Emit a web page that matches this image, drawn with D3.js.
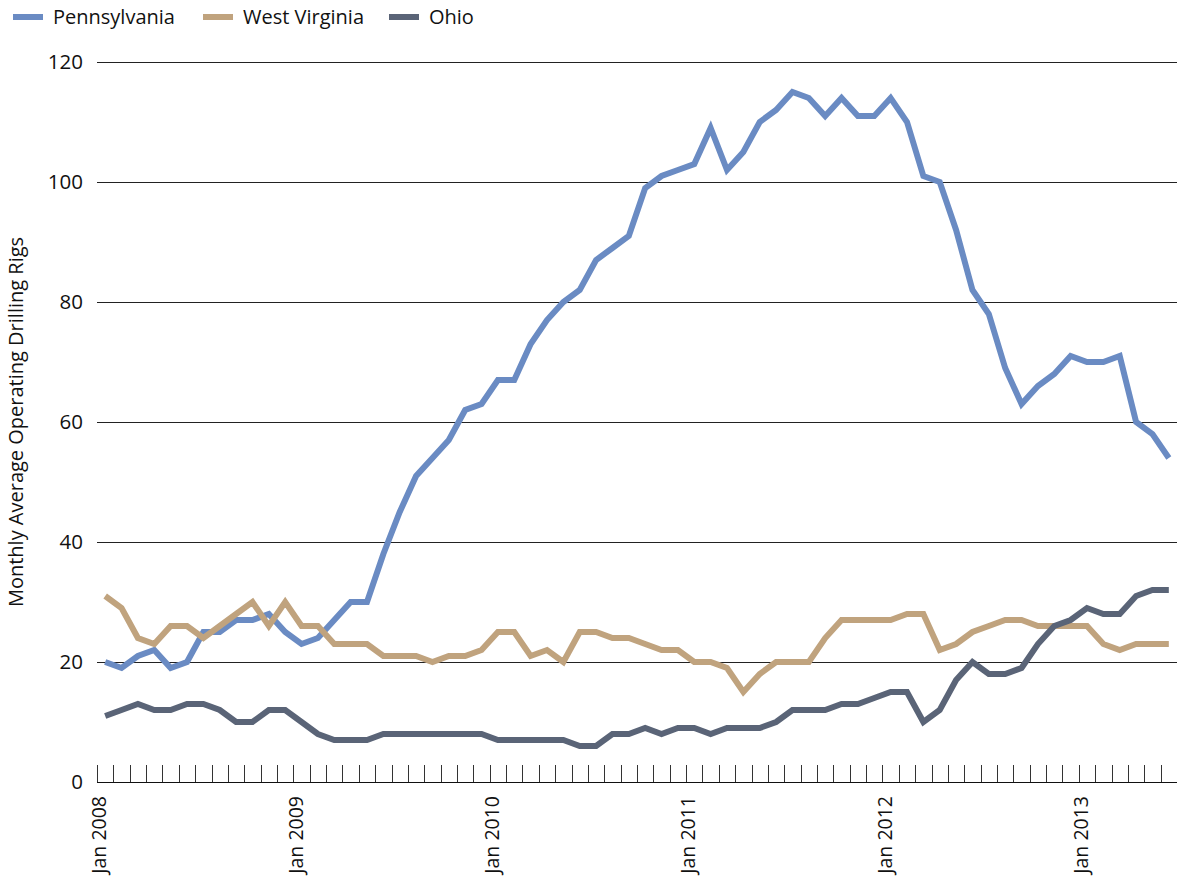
<!DOCTYPE html>
<html>
<head>
<meta charset="utf-8">
<script src="https://cdn.jsdelivr.net/npm/d3@7"></script>
<style>
  html, body { margin: 0; padding: 0; background: #fff; }
  svg text { font-family: "Open Sans", "Noto Sans", sans-serif; fill: #111; }
</style>
</head>
<body>
<svg id="chart" width="1177" height="880"></svg>
<script>
// ---- Data ----
const months = d3.range(66).map(i => new Date(2008, i, 1)); // Jan 2008 .. Jun 2013
const seriesNames = ["Pennsylvania", "West Virginia", "Ohio"];
const pennsylvania = [20,19,21,22,19,20,25,25,27,27,28,25,23,24,27,30,30,38,45,51,54,57,62,63,67,67,73,77,80,82,87,89,91,99,101,102,103,109,102,105,110,112,115,114,111,114,111,111,114,110,101,100,92,82,78,69,63,66,68,71,70,70,71,60,58,54];
const westVirginia = [31,29,24,23,26,26,24,26,28,30,26,30,26,26,23,23,23,21,21,21,20,21,21,22,25,25,21,22,20,25,25,24,24,23,22,22,20,20,19,15,18,20,20,20,24,27,27,27,27,28,28,22,23,25,26,27,27,26,26,26,26,23,22,23,23,23];
const ohio = [11,12,13,12,12,13,13,12,10,10,12,12,10,8,7,7,7,8,8,8,8,8,8,8,7,7,7,7,7,6,6,8,8,9,8,9,9,8,9,9,9,10,12,12,12,13,13,14,15,15,10,12,17,20,18,18,19,23,26,27,29,28,28,31,32,32];
const yTicks = [0, 20, 40, 60, 80, 100, 120];
const xLabelMonths = [0, 12, 24, 36, 48, 60];
const colors = ["#6a8bc3", "#c0a37e", "#5a6477"];
const yTitle = "Monthly Average Operating Drilling Rigs";

const fmt = d3.timeFormat("%b %Y");
const svg = d3.select("#chart");
const plotLeft = 97, plotRight = 1177, plotTop = 62, plotBottom = 782;

const x = d3.scaleBand().domain(d3.range(months.length)).range([plotLeft, plotRight]).paddingInner(0).paddingOuter(0);
const y = d3.scaleLinear().domain([0, 120]).range([plotBottom, plotTop]);
const cx = i => x(i) + x.bandwidth() / 2;

// Gridlines
svg.append("g").selectAll("line").data(yTicks.filter(d => d > 0)).join("line")
  .attr("x1", plotLeft).attr("x2", plotRight)
  .attr("y1", d => y(d) + 0.5).attr("y2", d => y(d) + 0.5)
  .attr("stroke", "#222").attr("stroke-width", 1);

// Y tick labels
svg.append("g").selectAll("text").data(yTicks).join("text")
  .attr("x", 83).attr("y", d => y(d))
  .attr("dy", "0.36em")
  .attr("text-anchor", "end")
  .attr("font-size", 20.5)
  .text(d => d);

// Y title
svg.append("text")
  .attr("transform", `translate(23,${(plotTop + plotBottom) / 2}) rotate(-90)`)
  .attr("text-anchor", "middle")
  .attr("font-size", 20)
  .text(yTitle);

// X axis line and ticks
svg.append("line").attr("x1", plotLeft).attr("x2", plotRight)
  .attr("y1", plotBottom + 0.5).attr("y2", plotBottom + 0.5)
  .attr("stroke", "#111").attr("stroke-width", 1.2);
const tickPos = d3.range(months.length + 1).map(i => i < months.length ? x(i) : plotRight - 0.5);
svg.append("g").selectAll("line").data(tickPos).join("line")
  .attr("x1", d => Math.round(d) + 0.5).attr("x2", d => Math.round(d) + 0.5)
  .attr("y1", plotBottom).attr("y2", plotBottom - 17)
  .attr("stroke", "#333").attr("stroke-width", 1);

// X labels
svg.append("g").selectAll("text").data(xLabelMonths).join("text")
  .attr("transform", i => `translate(${cx(i) - 6},${plotBottom + 14}) rotate(-90)`)
  .attr("text-anchor", "end")
  .attr("dy", "0.36em")
  .attr("font-size", 19.5)
  .text(i => fmt(months[i]));

// Lines
const allSeries = [pennsylvania, westVirginia, ohio];
const line = d3.line().x((d, i) => cx(i)).y(d => y(d));
svg.append("g").selectAll("path").data(allSeries).join("path")
  .attr("d", d => line(d))
  .attr("fill", "none")
  .attr("stroke", (d, i) => colors[i])
  .attr("stroke-width", 6)
  .attr("stroke-linejoin", "miter")
  .attr("stroke-linecap", "butt");

// Legend
const legendX = [13, 203, 389];
const lg = svg.append("g").selectAll("g").data(seriesNames).join("g")
  .attr("transform", (d, i) => `translate(${legendX[i]},17)`);
lg.append("line").attr("x1", 0).attr("x2", 30).attr("y1", 0).attr("y2", 0)
  .attr("stroke", (d, i) => colors[i]).attr("stroke-width", 6);
lg.append("text").attr("x", 40).attr("y", 0).attr("dy", "0.36em")
  .attr("font-size", 20).text(d => d);
</script>
</body>
</html>
